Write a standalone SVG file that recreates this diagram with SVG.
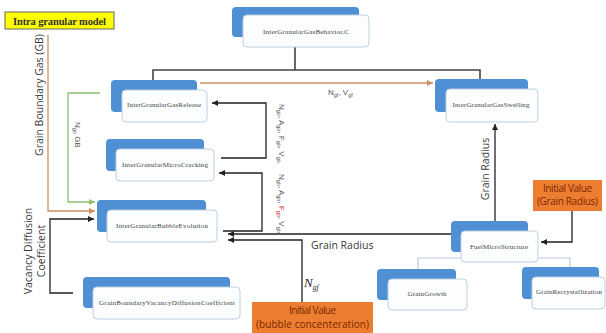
<svg xmlns="http://www.w3.org/2000/svg" width="606" height="333" viewBox="0 0 606 333">
<defs>
<style>
.back{fill:#4f8fd4}
.front{fill:#fbfdff;stroke:#bdd0e2;stroke-width:1}
.nt{font-family:"Liberation Serif",serif;font-size:7px;fill:#444;text-anchor:middle}
.lbl{font-family:"Open Sans","Liberation Sans",sans-serif;fill:#3a3a3a}
.sm{font-family:"Liberation Sans",sans-serif;font-size:8px;fill:#555}
.ln{fill:none;stroke:#222;stroke-width:1.3}
.tree{fill:none;stroke:#444;stroke-width:1.6}
.sub{fill:none;stroke:#b9cadb;stroke-width:1.2}
.org{fill:none;stroke:#d09060;stroke-width:1.3}
.grn{fill:none;stroke:#8cc06a;stroke-width:1.3}
.obox{fill:#ed7d31}
.otxt{font-family:"Open Sans","Liberation Sans",sans-serif;font-size:10px;fill:#7a2800;text-anchor:middle}
.serif{font-family:"Liberation Serif",serif}
</style>
<marker id="ak" viewBox="0 0 10 10" refX="10" refY="5" markerWidth="6" markerHeight="6" markerUnits="userSpaceOnUse" orient="auto"><path d="M0,0 L10,5 L0,10 z" fill="#222"/></marker>
<marker id="ao" viewBox="0 0 10 10" refX="10" refY="5" markerWidth="6" markerHeight="6" markerUnits="userSpaceOnUse" orient="auto"><path d="M0,0 L10,5 L0,10 z" fill="#d09060"/></marker>
<marker id="ag" viewBox="0 0 10 10" refX="10" refY="5" markerWidth="6" markerHeight="6" markerUnits="userSpaceOnUse" orient="auto"><path d="M0,0 L10,5 L0,10 z" fill="#8cc06a"/></marker>
</defs>
<rect width="606" height="333" fill="#fff"/>

<g id="connectors">
<path class="tree" d="M295,47 V70 M153,81 V70 H480 V80"/>
<path class="sub" d="M418,279 V258 H570 V277"/>
<path class="org" d="M200,83 H433" marker-end="url(#ao)"/>
<path class="org" d="M48,35 V211 H95" marker-end="url(#ao)"/>
<path class="grn" d="M100,93 H68 V202 H95" marker-end="url(#ag)"/>
<path class="ln" d="M73,293 H50 V219 H94" marker-end="url(#ak)"/>
<path class="ln" d="M495,221 V124" marker-end="url(#ak)"/>
<path class="ln" d="M572,211 V242 H541" marker-end="url(#ak)"/>
<path class="ln" d="M451,234 H228" marker-end="url(#ak)"/>
<path class="ln" d="M302,302 V240 H228" marker-end="url(#ak)"/>
<path class="ln" d="M223,231 H262 V173 H219" marker-end="url(#ak)"/>
<path class="ln" d="M221,158 H266 V103 H212" marker-end="url(#ak)"/>
</g>

<g id="intraModel">
<rect x="5" y="12" width="109" height="17" fill="#ffff00" stroke="#666" stroke-width="1"/>
<text class="serif" x="59.5" y="25" font-weight="bold" font-size="10.5" fill="#333" text-anchor="middle" textLength="93">Intra granular model</text>
</g>

<g id="gasBehavior">
<rect class="back" x="232" y="7" width="127" height="30" rx="4"/>
<rect class="front" x="243" y="15" width="126" height="32" rx="4"/>
<text class="nt" x="306" y="34" textLength="86">InterGranularGasBehavior.C</text>
</g>
<g id="gasRelease">
<rect class="back" x="111" y="80" width="86" height="32" rx="4"/>
<rect class="front" x="122" y="90" width="85" height="32" rx="4"/>
<text class="nt" x="164" y="107" textLength="74">InterGranularGasRelease</text>
</g>
<g id="gasSwelling">
<rect class="back" x="435" y="79" width="93" height="33" rx="4"/>
<rect class="front" x="446" y="89" width="92" height="33" rx="4"/>
<text class="nt" x="491" y="107" textLength="77">InterGranularGasSwelling</text>
</g>
<g id="microCracking">
<rect class="back" x="106" y="139" width="98" height="32" rx="4"/>
<rect class="front" x="116" y="149" width="98" height="32" rx="4"/>
<text class="nt" x="165" y="167" textLength="86">InterGranularMicroCracking</text>
</g>
<g id="bubbleEvolution">
<rect class="back" x="97" y="200" width="109" height="32" rx="4"/>
<rect class="front" x="107" y="210" width="110" height="32" rx="4"/>
<text class="nt" x="162" y="228" textLength="92">InterGranularBubbleEvolution</text>
</g>
<g id="vacancyDiffusion">
<rect class="back" x="83" y="277" width="147" height="31" rx="4"/>
<rect class="front" x="93" y="287" width="147" height="32" rx="4"/>
<text class="nt" x="167" y="305" textLength="136">GrainBoundaryVacancyDiffusionCoefficient</text>
</g>
<g id="fuelMicroStructure">
<rect class="back" x="451" y="221" width="77" height="31" rx="4"/>
<rect class="front" x="461" y="231" width="77" height="31" rx="4"/>
<text class="nt" x="499" y="249" textLength="58">FuelMicroStructure</text>
</g>
<g id="grainGrowth">
<rect class="back" x="377" y="269" width="79" height="31" rx="4"/>
<rect class="front" x="388" y="279" width="79" height="31" rx="4"/>
<text class="nt" x="427" y="296" textLength="39">GrainGrowth</text>
</g>
<g id="grainRecrystallization">
<rect class="back" x="522" y="267" width="77" height="32" rx="4"/>
<rect class="front" x="532" y="277" width="73" height="32" rx="4"/>
<text class="nt" x="569" y="294" textLength="66">GrainRecrystallization</text>
</g>

<g id="initGrainRadius">
<rect class="obox" x="533" y="180" width="69" height="31"/>
<text class="otxt" x="567.5" y="192" textLength="49">Initial Value</text>
<text class="otxt" x="567.5" y="205" textLength="61">(Grain Radius)</text>
</g>
<g id="initBubble">
<rect class="obox" x="252" y="302" width="121" height="31"/>
<text class="otxt" x="312.5" y="314" textLength="47">Initial Value</text>
<text class="otxt" x="312.5" y="328" font-size="11" fill="#222" textLength="113">(bubble concenteration)</text>
</g>

<g id="labels">
<text class="lbl" font-size="10.5" text-anchor="middle" transform="translate(43,95) rotate(-90)">Grain Boundary Gas (GB)</text>
<text class="lbl" font-size="10.5" text-anchor="middle" transform="translate(32,251) rotate(-90)">Vacancy Diffusion</text>
<text class="lbl" font-size="10.5" text-anchor="middle" transform="translate(45,251) rotate(-90)">Coefficient</text>
<text class="lbl" font-size="10.5" text-anchor="middle" transform="translate(489,169) rotate(-90)">Grain Radius</text>
<text class="lbl" font-size="10.5" x="311" y="249">Grain Radius</text>
<text class="sm" transform="translate(75,122) rotate(90)">N<tspan font-size="5.5" dy="2">gb</tspan><tspan dy="-2"> GB</tspan></text>
<text class="sm" x="328" y="95">N<tspan font-size="5.5" dy="2">gf</tspan><tspan dy="-2">, V</tspan><tspan font-size="5.5" dy="2">gf</tspan></text>
<text class="sm" transform="translate(279,104) rotate(90)">N<tspan font-size="5.5" dy="2">gb</tspan><tspan dy="-2">, A</tspan><tspan font-size="5.5" dy="2">gb</tspan><tspan dy="-2">, F</tspan><tspan font-size="5.5" dy="2">gb</tspan><tspan dy="-2">, V</tspan><tspan font-size="5.5" dy="2">gb</tspan></text>
<text class="sm" transform="translate(279,174) rotate(90)">N<tspan font-size="5.5" dy="2">gb</tspan><tspan dy="-2">, A</tspan><tspan font-size="5.5" dy="2">gb</tspan><tspan dy="-2">, </tspan><tspan fill="#e02020">F</tspan><tspan font-size="5.5" dy="2" fill="#e02020">gb</tspan><tspan dy="-2">, V</tspan><tspan font-size="5.5" dy="2">gb</tspan></text>
<text class="serif" x="304" y="287" font-style="italic" font-size="13" fill="#222">N<tspan font-size="7.5" dy="3">gf</tspan></text>
</g>
</svg>
